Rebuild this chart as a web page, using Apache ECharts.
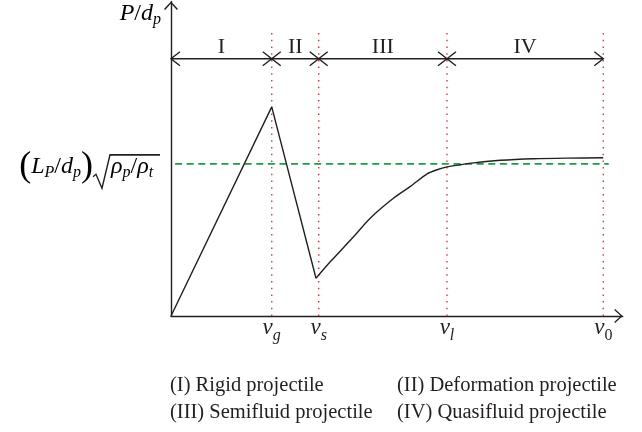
<!DOCTYPE html>
<html>
<head>
<meta charset="utf-8">
<script src="https://cdn.jsdelivr.net/npm/echarts@6/dist/echarts.min.js"></script>
<style>
  html, body { margin: 0; padding: 0; background: #fff; }
  #chart { width: 642px; height: 432px; }
</style>
</head>
<body>
<div id="chart"></div>
<script>
// Regime boundaries on the impact-velocity axis (v_g, v_s, v_l, v_0)
const boundaryNames = ['g', 's', 'l', '0'];
const boundaryValues = [2.23, 3.27, 6.11, 9.57];
// Regime numerals shown between successive boundaries
const regimeLabels = ['I', 'II', 'III', 'IV'];

// Normalised penetration: rigid rise, then drop while the projectile deforms
const rigidX = [0, 2.23, 3.21];
const rigidY = [0, 6.65, 1.20];
// Recovery towards the hydrodynamic limit
const fluidX = [3.21, 3.53, 4.01, 4.41, 4.93, 5.30, 5.67, 5.89, 6.11, 6.41, 6.70, 7.29, 8.03, 8.76, 9.57];
const fluidY = [1.20, 1.73, 2.47, 3.11, 3.75, 4.12, 4.52, 4.65, 4.74, 4.81, 4.87, 4.95, 5.00, 5.02, 5.03];

// Hydrodynamic limit (L_p/d_p)·sqrt(rho_p/rho_t)
const limitLevel = 4.84;
const limitExtent = [0.09, 9.69];

// Height of the boundary markers and of the regime arrows
const dividerTop = 9.0;
const arrowLevel = 8.18;

const legendRows = [
  ['(I) Rigid projectile', '(II) Deformation projectile'],
  ['(III) Semifluid projectile', '(IV) Quasifluid projectile']
];

const SERIF = '"Liberation Serif", "DejaVu Serif", serif';
const INK = '#231f20';
const chevron = 'path://M0 7.6 L7 0 L14 7.6 L12.9 8.5 L7 1.9 L1.1 8.5 Z';

const arrowStarts = [0].concat(boundaryValues.slice(0, -1));
const arrowData = boundaryValues.map((end, i) => [arrowStarts[i], end, arrowLevel]);

const chart = echarts.init(document.getElementById('chart'), null, { renderer: 'canvas' });

const axisLineCommon = {
  show: true,
  onZero: false,
  lineStyle: { color: INK, width: 1.4 },
  symbol: ['none', chevron],
  symbolSize: [14, 8.5],
  symbolOffset: [0, -4.25]
};

chart.setOption({
  animation: false,
  backgroundColor: '#fff',
  grid: { left: 171, right: 19.3, top: 1.5, bottom: 116, containLabel: false },
  xAxis: {
    type: 'value', min: 0, max: 10,
    axisLine: axisLineCommon,
    axisTick: { show: false },
    splitLine: { show: false },
    axisLabel: {
      customValues: boundaryValues,
      margin: 1,
      formatter: function (value) {
        let idx = 0, best = Infinity;
        boundaryValues.forEach((v, i) => { const d = Math.abs(v - value); if (d < best) { best = d; idx = i; } });
        const name = boundaryNames[idx];
        return '{v|v}' + (name === '0' ? '{n|0}' : '{s|' + name + '}');
      },
      rich: {
        v: { fontFamily: SERIF, fontStyle: 'italic', fontSize: 23, lineHeight: 22, color: INK },
        s: { fontFamily: SERIF, fontStyle: 'italic', fontSize: 16, lineHeight: 22, padding: [15, 0, 0, 0], color: INK },
        n: { fontFamily: SERIF, fontSize: 16, lineHeight: 22, padding: [15, 0, 0, 0], color: INK }
      }
    }
  },
  yAxis: {
    type: 'value', min: 0, max: 10,
    axisLine: axisLineCommon,
    axisTick: { show: false },
    splitLine: { show: false },
    axisLabel: { show: false }
  },
  series: [
    {
      // boundary markers
      type: 'custom',
      silent: true,
      z: 1,
      data: boundaryValues.map(v => [v, dividerTop]),
      encode: { x: 0, y: 1 },
      renderItem: function (params, api) {
        const x = api.value(0);
        const a = api.coord([x, 0]);
        const b = api.coord([x, api.value(1)]);
        return {
          type: 'line',
          shape: { x1: a[0], y1: a[1], x2: b[0], y2: b[1] },
          style: { stroke: '#e8323c', lineWidth: 1.4, lineDash: [1.5, 5.2] }
        };
      }
    },
    {
      // hydrodynamic limit
      type: 'line',
      silent: true,
      symbol: 'none',
      z: 2,
      data: limitExtent.map(x => [x, limitLevel]),
      lineStyle: { color: '#1a9e42', width: 1.7, type: [7, 4.6] }
    },
    {
      // regime arrows with numerals
      type: 'custom',
      silent: true,
      z: 3,
      data: arrowData,
      encode: { x: [0, 1], y: 2 },
      renderItem: function (params, api) {
        const p1 = api.coord([api.value(0), api.value(2)]);
        const p2 = api.coord([api.value(1), api.value(2)]);
        const d = 9, h = 7;
        const st = { stroke: INK, lineWidth: 1.4, fill: 'none' };
        return {
          type: 'group',
          children: [
            { type: 'line', shape: { x1: p1[0], y1: p1[1], x2: p2[0], y2: p2[1] }, style: st },
            { type: 'polyline', shape: { points: [[p1[0] + d, p1[1] - h], [p1[0], p1[1]], [p1[0] + d, p1[1] + h]] }, style: st },
            { type: 'polyline', shape: { points: [[p2[0] - d, p2[1] - h], [p2[0], p2[1]], [p2[0] - d, p2[1] + h]] }, style: st },
            {
              type: 'text',
              style: {
                text: regimeLabels[params.dataIndex],
                x: (p1[0] + p2[0]) / 2, y: p1[1] - 12,
                align: 'center', verticalAlign: 'middle',
                font: '22px ' + SERIF, fill: INK
              }
            }
          ]
        };
      }
    },
    {
      type: 'line',
      silent: true,
      symbol: 'none',
      z: 4,
      data: rigidX.map((x, i) => [x, rigidY[i]]),
      lineStyle: { color: INK, width: 1.4 }
    },
    {
      type: 'line',
      silent: true,
      symbol: 'none',
      smooth: 0.25,
      z: 4,
      data: fluidX.map((x, i) => [x, fluidY[i]]),
      lineStyle: { color: INK, width: 1.4 }
    }
  ]
});

// Annotations placed relative to the axes
const ax = chart.convertToPixel({ xAxisIndex: 0 }, 0);
const yTop = chart.convertToPixel({ yAxisIndex: 0 }, 10);
const yLim = chart.convertToPixel({ yAxisIndex: 0 }, limitLevel);

const itRich = {
  i: { fontFamily: SERIF, fontStyle: 'italic', fontSize: 24, lineHeight: 36, color: INK },
  u: { fontFamily: SERIF, fontSize: 24, lineHeight: 36, color: INK },
  s: { fontFamily: SERIF, fontStyle: 'italic', fontSize: 16, lineHeight: 36, padding: [13, 0, 0, 0], color: INK },
  p: { fontFamily: SERIF, fontSize: 36, lineHeight: 36, color: INK }
};

const graphics = [
  {
    type: 'text', silent: true,
    style: {
      text: '{i|P}{u|/}{i|d}{s|p}',
      rich: itRich,
      x: ax - 10, y: yTop + 12,
      align: 'right', verticalAlign: 'middle'
    }
  },
  {
    type: 'text', silent: true,
    style: {
      text: '{p|(}{i|L}{s|P}{u|/}{i|d}{s|p}{p|)}',
      rich: itRich,
      x: ax - 78, y: yLim + 3,
      align: 'right', verticalAlign: 'middle'
    }
  },
  {
    type: 'text', silent: true,
    style: {
      text: '{i|ρ}{s|p}{u|/}{i|ρ}{s|t}',
      rich: itRich,
      x: ax - 60, y: yLim + 3,
      align: 'left', verticalAlign: 'middle'
    }
  },
  {
    type: 'polyline', silent: true,
    shape: { points: [[ax - 78, yLim + 13], [ax - 75, yLim + 10.5], [ax - 69, yLim + 24.5], [ax - 61, yLim - 9]] },
    style: { stroke: INK, lineWidth: 1.4, fill: 'none' }
  },
  {
    type: 'line', silent: true,
    shape: { x1: ax - 61.5, y1: yLim - 9, x2: ax - 11, y2: yLim - 9 },
    style: { stroke: INK, lineWidth: 1.8 }
  }
];

const legendX = [170, 397];
const legendY = [386, 413];
legendRows.forEach((row, r) => {
  row.forEach((txt, c) => {
    graphics.push({
      type: 'text', silent: true,
      style: {
        text: txt, x: legendX[c], y: legendY[r],
        align: 'left', verticalAlign: 'middle',
        font: '20.5px ' + SERIF, fill: INK
      }
    });
  });
});

chart.setOption({ graphic: graphics });
</script>
</body>
</html>
